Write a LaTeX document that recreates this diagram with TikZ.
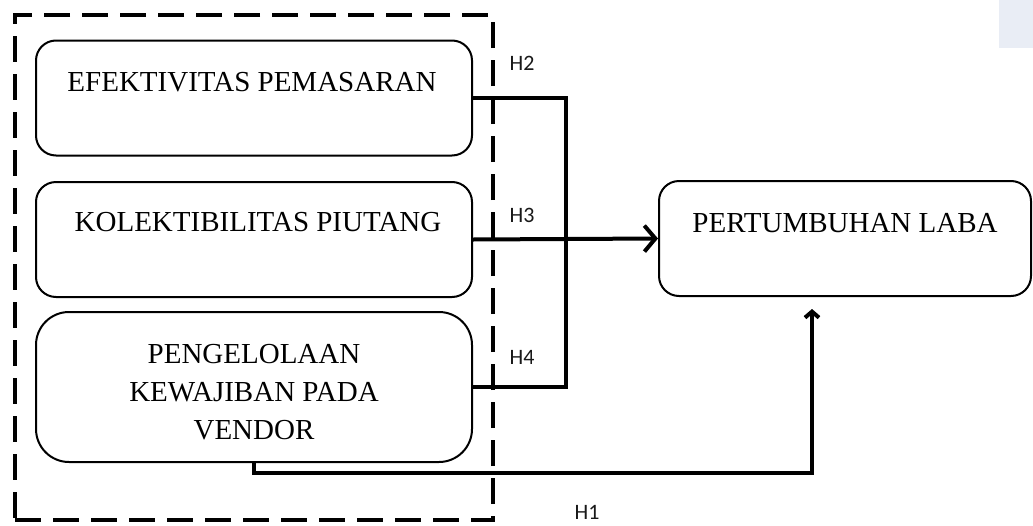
\documentclass[tikz,border=0pt]{standalone}
\usepackage{fontspec}
\setmainfont{Liberation Serif}
\newfontfamily\lblfont{Carlito}
\usetikzlibrary{arrows.meta}
\begin{document}
\begin{tikzpicture}[x=1pt,y=-1pt,
  box/.style={draw, line width=2pt, rounded corners=20pt, minimum width=436pt, minimum height=115pt, inner sep=0pt},
  txt/.style={font=\fontsize{29}{38}\selectfont, align=center, inner sep=0pt},
  hlab/.style={font=\lblfont\fontsize{22}{26}\selectfont, text=black!90, inner sep=0pt},
  conn/.style={line width=4pt},
]
\useasboundingbox (0,0) rectangle (1033,525);
\fill[color={rgb,255:red,233;green,237;blue,245}] (999,0) rectangle (1033,48);
\node[draw, line width=4pt, dash pattern=on 26pt off 12pt, minimum width=478pt, minimum height=505pt, inner sep=0pt] (grp) at (254,267.5) {};
\node[box] (b1) at (254,98) {};
\node[box] (b2) at (254,239.5) {};
\node[box, minimum height=150pt, rounded corners=33pt] (b3) at (254,387) {};
\node[box, minimum width=372pt] (out) at (845,238.5) {};
\node[txt] (t1) at (252,82) {EFEKTIVITAS PEMASARAN};
\node[txt] (t2) at (258,222) {KOLEKTIBILITAS PIUTANG};
\node[txt] (t3) at (254,392) {PENGELOLAAN\\KEWAJIBAN PADA\\VENDOR};
\node[txt] (t4) at (845,223) {PERTUMBUHAN LABA};
\node[hlab] (h2) at (522,63) {H2};
\node[hlab] (h3) at (522,215) {H3};
\node[hlab] (h4) at (522,357) {H4};
\node[hlab] (h1) at (587,512) {H1};
\coordinate (jt) at (566,98);
\coordinate (jb) at (566,387);
\coordinate (h1c) at (812,473);
\coordinate (h1t) at (812,309);
\draw[conn, line join=miter] (b1.east) -- (jt) -- (jb) -- (b3.east);
\draw[conn, -{Straight Barb[length=11pt,width=26pt]}] (b2.east) -- (out.west);
\draw[conn, line join=miter, -{Straight Barb[length=6pt,width=14pt]}] (b3.south) |- (h1c) -- (h1t);
\end{tikzpicture}
\end{document}
